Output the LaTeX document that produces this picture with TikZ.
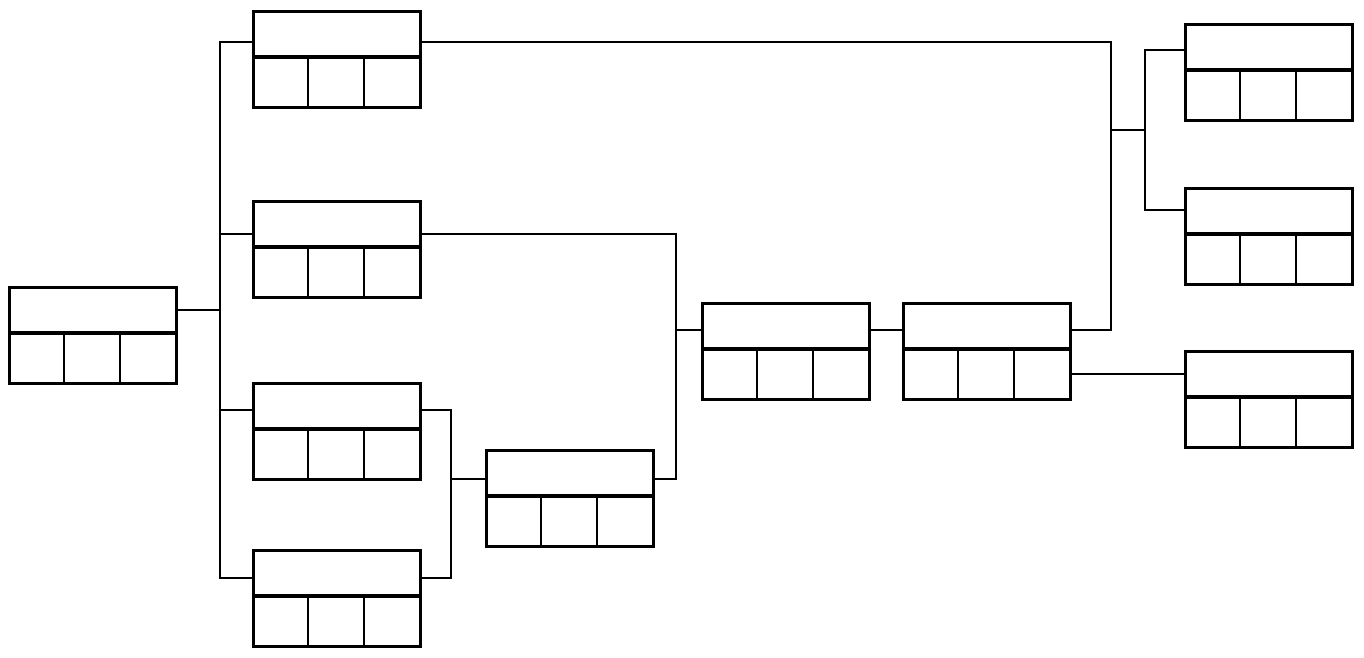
\documentclass[tikz,border=0pt]{standalone}
\begin{document}
\begin{tikzpicture}[x=1pt,y=-1pt,
  bx/.style={draw,line width=2.5pt,rectangle,minimum width=167pt,minimum height=96pt,inner sep=0pt,anchor=north west},
  cn/.style={line width=1.6pt}]
\useasboundingbox (0,0) rectangle (1364,657);
\newcommand\rbox[3]{%
  \node[bx] (#1) at (#2,#3) {};
  \draw[line width=3.5pt] ([yshift=-47pt]#1.north west) -- ([yshift=-47pt]#1.north east);
  \draw[line width=2.5pt] ([xshift=56pt,yshift=-47pt]#1.north west) -- ([xshift=56pt]#1.south west);
  \draw[line width=2.5pt] ([xshift=112pt,yshift=-47pt]#1.north west) -- ([xshift=112pt]#1.south west);}
\rbox{A}{8}{286}
\rbox{B1}{252}{10}
\rbox{B2}{252}{200}
\rbox{B3}{252}{382}
\rbox{B4}{252}{549}
\rbox{C}{485}{449}
\rbox{D}{701}{302}
\rbox{E}{902}{302}
\rbox{F1}{1184}{23}
\rbox{F2}{1184}{187}
\rbox{F3}{1184}{350}
% A to B bus
\draw[cn] (A.east|-0,310) -- (220,310);
\draw[cn] (B1.west|-0,42) -| (220,578) -- (B4.west|-0,578);
\draw[cn] (220,234) -- (B2.west|-0,234);
\draw[cn] (220,410) -- (B3.west|-0,410);
% B3,B4 to C
\draw[cn] (B3.east|-0,410) -| (451,578) -- (B4.east|-0,578);
\draw[cn] (451,479) -- (C.west|-0,479);
% B2, C to D
\draw[cn] (B2.east|-0,234) -| (676,479) -- (C.east|-0,479);
\draw[cn] (676,330) -- (D.west|-0,330);
\draw[cn] (D.east|-0,330) -- (E.west|-0,330);
% E to B1 and F
\draw[cn] (B1.east|-0,42) -| (1111,330) -- (E.east|-0,330);
\draw[cn] (1111,130) -- (1145,130);
\draw[cn] (F1.west|-0,50) -| (1145,210) -- (F2.west|-0,210);
\draw[cn] (E.east|-0,374) -- (F3.west|-0,374);
\end{tikzpicture}
\end{document}
